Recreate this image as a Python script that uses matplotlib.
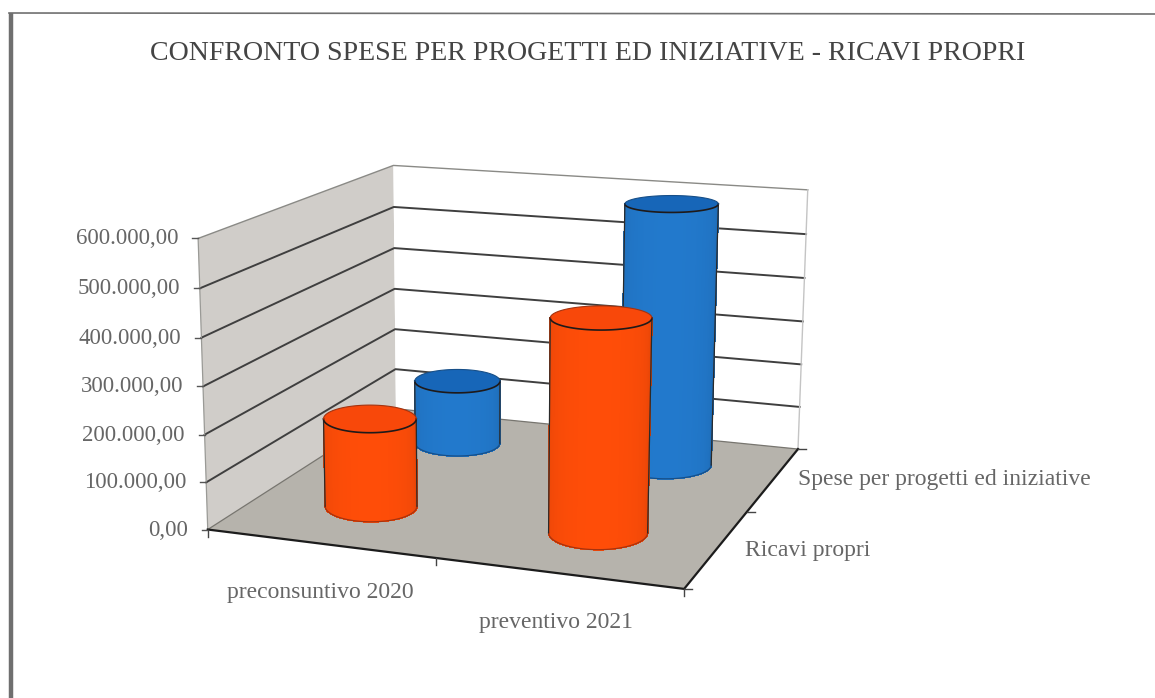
import numpy as np
import matplotlib
matplotlib.use("Agg")
import matplotlib.pyplot as plt
from matplotlib.collections import PolyCollection

TITLE = "CONFRONTO SPESE PER PROGETTI ED INIZIATIVE - RICAVI PROPRI"
categories = ["preconsuntivo 2020", "preventivo 2021"]
series_names = ["Ricavi propri", "Spese per progetti ed iniziative"]
ricavi_propri = [190000, 445000]
spese_progetti = [148000, 590000]
z_ticks = [0, 100000, 200000, 300000, 400000, 500000, 600000]
z_labels = ["0,00", "100.000,00", "200.000,00", "300.000,00", "400.000,00", "500.000,00", "600.000,00"]
ZMAX = 600000.0

# camera fitted to the chart box corners (x category, y depth, z value)
box = np.array([[0,0,0],[1,0,0],[0,1,0],[1,1,0],[0,0,1],[0,1,1],[1,1,1]], float)
img = np.array([[208,527],[685,590],[395,411],[798,448],[197,240],[395,164],[807,190]], float)
A, b = [], []
for (X, Y, Z), (u, v) in zip(box, img):
    A.append([X,Y,Z,1,0,0,0,0,-u*X,-u*Y,-u*Z]); b.append(u)
    A.append([0,0,0,0,X,Y,Z,1,-v*X,-v*Y,-v*Z]); b.append(v)
p = np.linalg.lstsq(np.array(A), np.array(b), rcond=None)[0]
P = np.append(p, 1).reshape(3, 4)

def proj(x, y, z):
    x, y, z = np.broadcast_arrays(np.asarray(x, float), np.asarray(y, float), np.asarray(z, float) / ZMAX)
    h = np.stack([x, y, z, np.ones_like(x)], -1) @ P.T
    return h[..., :2] / h[..., 2:]

plt.rcParams["font.family"] = "Liberation Serif"
fig = plt.figure(figsize=(11.55, 6.98), dpi=100)
ax = fig.add_axes([0, 0, 1, 1])
ax.set_xlim(0, 1155); ax.set_ylim(698, 0); ax.axis("off")

def poly(pts, **kw):
    ax.fill(pts[:, 0], pts[:, 1], **kw)

# page frame
ax.plot([11, 11], [13, 698], color="#6f6f6f", lw=3.2, solid_capstyle="butt")
ax.plot([9, 1155], [13, 14], color="#707070", lw=1.2)

# walls and floor
corners = lambda xs, ys, zs: proj(np.array(xs), np.array(ys), np.array(zs))
poly(corners([0,0,0,0],[0,1,1,0],[0,0,ZMAX,ZMAX]), color="#d0cdc9", lw=0)
poly(corners([0,1,1,0],[1,1,1,1],[0,0,ZMAX,ZMAX]), color="#ffffff", lw=0)
poly(corners([0,1,1,0],[0,0,1,1],[0,0,0,0]), color="#b6b3ac", lw=0)

for zt in z_ticks[1:]:
    pts = corners([0,0,1],[0,1,1],[zt,zt,zt])
    top = zt == ZMAX
    ax.plot(pts[:,0], pts[:,1], color="#8a8a86" if top else "#3f3f3f", lw=1.0 if top else 1.4)
pts = corners([0,0,1],[0,1,1],[0,0,0]); ax.plot(pts[:,0], pts[:,1], color="#77756f", lw=0.9)
pts = corners([1,1],[1,1],[0,ZMAX]); ax.plot(pts[:,0], pts[:,1], color="#c4c4c4", lw=1.0)
pts = corners([0,0],[0,0],[0,ZMAX]); ax.plot(pts[:,0], pts[:,1], color="#9a9a96", lw=0.9)
pts = corners([0,1,1],[0,0,1],[0,0,0]); ax.plot(pts[:,0], pts[:,1], color="#1c1c1c", lw=1.6)

# ticks
for zt, lab in zip(z_ticks, z_labels):
    q = proj(0, 0, zt)
    ax.plot([q[0]-6, q[0]], [q[1], q[1]], color="#555555", lw=1.0)
    ax.text(q[0]-20, q[1]+6, lab, ha="right", va="baseline", fontsize=16.5, color="#666666")
for xt in [0, .5, 1]:
    q = proj(xt, 0, 0)
    ax.plot([q[0], q[0]], [q[1], q[1]+7], color="#444444", lw=1.0)
for yt in [0, .5, 1]:
    q = proj(1, yt, 0)
    ax.plot([q[0], q[0]+8], [q[1], q[1]], color="#444444", lw=1.0)

# cylinders: upright with horizontally aligned ellipses, as the chart draws them
RX, RY = 0.105, 0.115
def ring(cx, cy, z, th):
    c = proj(cx, cy, z)
    hw = (proj(cx+RX, cy, z)[0] - proj(cx-RX, cy, z)[0]) / 2
    hh = (proj(cx, cy-RY, z)[1] - proj(cx, cy+RY, z)[1]) / 2
    return np.column_stack([c[0] + hw*np.cos(th), c[1] + hh*np.sin(th)])

def cylinder(cx, cy, val, side, top_col, edge, zo):
    th = np.linspace(np.pi, 0, 91)      # left to right along the front
    low, up = ring(cx, cy, 0, th), ring(cx, cy, val, th)
    verts, cols = [], []
    for i in range(len(th)-1):
        verts.append([low[i], low[i+1], up[i+1], up[i]])
        f = 0.86 + 0.14*np.sin((th[i]+th[i+1])/2)**0.5
        cols.append(tuple(np.array(matplotlib.colors.to_rgb(side))*f))
    ax.add_collection(PolyCollection(verts, facecolors=cols, edgecolors=cols, linewidths=0.6,
                                     antialiaseds=False, zorder=zo))
    ax.plot(low[:,0], low[:,1], color=edge, lw=0.9, zorder=zo+.1)
    for i in (0, -1):
        ax.plot([low[i,0], up[i,0]], [low[i,1], up[i,1]], color="#2a2a2a", lw=0.9, zorder=zo+.1)
    full = ring(cx, cy, val, np.linspace(0, 2*np.pi, 181))
    poly(full, color=top_col, lw=0, zorder=zo+.2)
    ax.plot(up[:,0], up[:,1], color="#1f1a1a", lw=1.2, zorder=zo+.3)
    back = ring(cx, cy, val, np.linspace(np.pi, 2*np.pi, 91))
    ax.plot(back[:,0], back[:,1], color=edge, lw=0.8, zorder=zo+.3)

x_pos = [0.25, 0.75]
zo = 5
for xc, v in zip(x_pos, spese_progetti):
    cylinder(xc, 0.77, v, "#2279cc", "#1766b8", "#174f88", zo); zo += 1
for xc, v in zip(x_pos, ricavi_propri):
    cylinder(xc, 0.26, v, "#ff4d08", "#f8480a", "#a5330f", zo); zo += 1

# labels
ax.text(588, 60, TITLE, ha="center", va="baseline", fontsize=20.1, color="#444444")
ax.text(320, 598, categories[0], ha="center", va="baseline", fontsize=17, color="#666666")
ax.text(556, 628, categories[1], ha="center", va="baseline", fontsize=17, color="#666666")
ax.text(745, 556, series_names[0], ha="left", va="baseline", fontsize=17, color="#666666")
ax.text(798, 485, series_names[1], ha="left", va="baseline", fontsize=17, color="#666666")

fig.savefig("out.png", dpi=100, facecolor="white")
